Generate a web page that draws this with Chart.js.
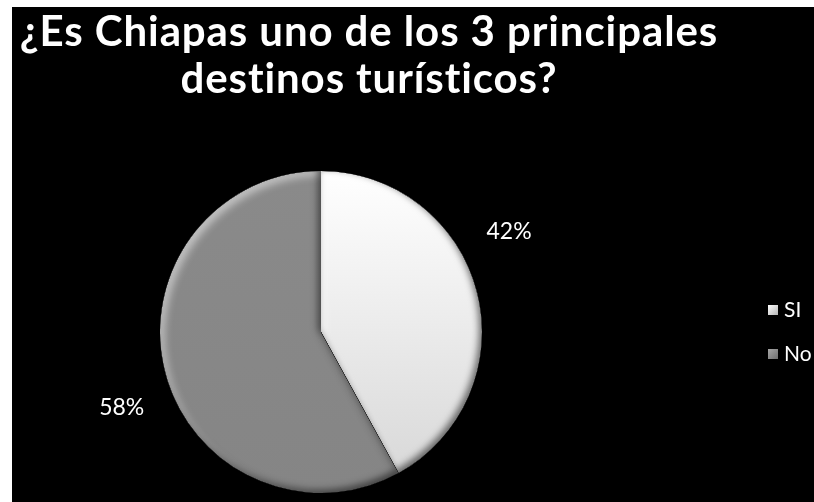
<!DOCTYPE html>
<html>
<head>
<meta charset="utf-8">
<script src="https://cdn.jsdelivr.net/npm/chart.js@4"></script>
<style>
  html, body { margin: 0; padding: 0; background: #fff; overflow: hidden; }
  body { width: 814px; height: 502px; position: relative; font-family: Lato, "Open Sans", sans-serif; }
  #panel { position: absolute; left: 12px; top: 7px; width: 802px; height: 495px; background: #000; overflow: hidden; }
  #chart-title {
    position: absolute; left: 0; top: 0; width: 714px;
    color: #fff; font-weight: 700; font-size: 42px; line-height: 47px; letter-spacing: 0.9px; text-align: center;
  }
  #legend { position: absolute; left: 756px; top: 289px; color: #fff; font-size: 21px; white-space: nowrap; }
  .legend-item { height: 44px; display: flex; align-items: flex-start; }
  .legend-box { width: 10px; height: 10px; margin-top: 9px; margin-right: 6px; box-sizing: border-box; flex: none; }
</style>
</head>
<body>
<div id="panel">
  <canvas id="pie-chart"></canvas>
  <div id="chart-title">¿Es Chiapas uno de los 3 principales<br>destinos turísticos?</div>
  <div id="legend"></div>
</div>
<script>
// Chart data
const categories = ['SI', 'No'];
const shares = [42, 58];

// Slice fills
const sliceTop = ['#ffffff', '#8a8a8a'];
const sliceBottom = ['#d6d6d6', '#858585'];
const legendFills = [
  'linear-gradient(135deg, #ffffff, #b5b5b5)',
  'linear-gradient(135deg, #a8a8a8, #6e6e6e)'
];

// Path of one slice, used for clipping and inner shadows
function slicePath(ctx, arc) {
  ctx.moveTo(arc.x, arc.y);
  ctx.arc(arc.x, arc.y, arc.outerRadius, arc.startAngle, arc.endAngle);
  ctx.closePath();
}

function innerShadow(ctx, arc, color, dx, dy, blur) {
  ctx.save();
  ctx.beginPath();
  slicePath(ctx, arc);
  ctx.clip();
  ctx.beginPath();
  ctx.rect(-2000, -2000, 5000, 5000);
  slicePath(ctx, arc);
  ctx.shadowColor = color;
  ctx.shadowBlur = blur;
  ctx.shadowOffsetX = dx;
  ctx.shadowOffsetY = dy;
  ctx.fillStyle = '#000';
  ctx.fill('evenodd');
  ctx.restore();
}

// Soft bevel on each slice, lit from the top left
const bevelPlugin = {
  id: 'bevel',
  afterDatasetsDraw(chart) {
    const ctx = chart.ctx;
    chart.getDatasetMeta(0).data.forEach(function(el) {
      const arc = el.getProps(['x', 'y', 'startAngle', 'endAngle', 'outerRadius'], true);
      innerShadow(ctx, arc, 'rgba(255,255,255,0.55)', 4, 4, 8);
      innerShadow(ctx, arc, 'rgba(0,0,0,0.55)', -3, -3, 7);
    });
  }
};

// Percentage labels outside the pie
const percentLabels = {
  id: 'percentLabels',
  afterDraw(chart, args, opts) {
    const ctx = chart.ctx;
    const data = chart.data.datasets[0].data;
    const total = data.reduce((a, b) => a + b, 0);
    ctx.save();
    ctx.font = opts.font;
    ctx.fillStyle = opts.color;
    ctx.textAlign = 'center';
    ctx.textBaseline = 'middle';
    chart.getDatasetMeta(0).data.forEach(function(el, i) {
      const arc = el.getProps(['x', 'y', 'startAngle', 'endAngle', 'outerRadius'], true);
      const a = arc.startAngle + (arc.endAngle - arc.startAngle) * opts.anchor[i];
      const r = arc.outerRadius + opts.distance;
      const text = Math.round(data[i] / total * 100) + '%';
      ctx.fillText(text, arc.x + Math.cos(a) * r, arc.y + Math.sin(a) * r);
    });
    ctx.restore();
  }
};

function sliceFill(context) {
  const chart = context.chart;
  const area = chart.chartArea;
  if (!area) return sliceTop[context.dataIndex];
  const g = chart.ctx.createLinearGradient(0, area.top, 0, area.bottom);
  g.addColorStop(0, sliceTop[context.dataIndex]);
  g.addColorStop(1, sliceBottom[context.dataIndex]);
  return g;
}

function buildLegend() {
  const legend = document.getElementById('legend');
  categories.forEach(function(name, i) {
    const item = document.createElement('div');
    item.className = 'legend-item';
    const box = document.createElement('span');
    box.className = 'legend-box';
    box.style.background = legendFills[i];
    const label = document.createElement('span');
    label.textContent = name;
    item.appendChild(box);
    item.appendChild(label);
    legend.appendChild(item);
  });
}

function initPieChart() {
  const ctx = document.getElementById('pie-chart').getContext('2d');
  window.pieChart = new Chart(ctx, {
    type: 'pie',
    data: {
      labels: categories,
      datasets: [{
        data: shares,
        backgroundColor: sliceFill,
        borderWidth: 0
      }]
    },
    options: {
      responsive: true,
      maintainAspectRatio: false,
      animation: false,
      layout: {
        padding: { top: 164, bottom: 9, left: 0, right: 184 }
      },
      plugins: {
        legend: { display: false },
        title: { display: false },
        tooltip: { enabled: false },
        percentLabels: {
          font: '23px Lato, "Open Sans", sans-serif',
          color: '#ffffff',
          anchor: [0.41, 0.47],
          distance: 52
        }
      }
    },
    plugins: [bevelPlugin, percentLabels]
  });
}

document.addEventListener('DOMContentLoaded', function() {
  buildLegend();
  initPieChart();
});
</script>
</body>
</html>
